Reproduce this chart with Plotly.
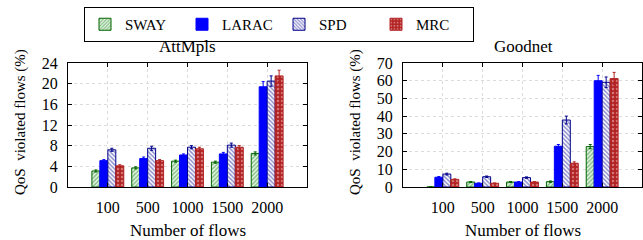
import plotly.graph_objects as go

categories = ["100", "500", "1000", "1500", "2000"]
series_names = ["SWAY", "LARAC", "SPD", "MRC"]

att_sway = [3.1, 3.7, 5.0, 4.8, 6.5]
att_larac = [5.1, 5.5, 6.2, 6.4, 19.4]
att_spd = [7.2, 7.5, 7.7, 8.1, 20.5]
att_mrc = [4.1, 5.1, 7.4, 7.7, 21.5]
att_sway_err = [0.2, 0.2, 0.2, 0.2, 0.3]
att_larac_err = [0.2, 0.3, 0.2, 0.3, 1.0]
att_spd_err = [0.3, 0.4, 0.3, 0.4, 1.0]
att_mrc_err = [0.2, 0.2, 0.3, 0.3, 1.1]

good_sway = [0.0, 2.8, 2.8, 3.0, 22.8]
good_larac = [5.5, 2.1, 2.8, 23.0, 60.0]
good_spd = [7.3, 5.8, 5.3, 37.8, 59.1]
good_mrc = [4.3, 2.1, 2.8, 13.4, 61.2]
good_sway_err = [0.2, 0.3, 0.3, 0.4, 1.2]
good_larac_err = [0.4, 0.2, 0.2, 1.0, 3.0]
good_spd_err = [0.5, 0.4, 0.4, 2.2, 3.0]
good_mrc_err = [0.3, 0.2, 0.2, 0.8, 3.5]

FONT = "Liberation Serif, Times New Roman, DejaVu Serif, serif"

styles = {
    "SWAY": dict(color="white", line=dict(color="#006400", width=1),
                 pattern=dict(shape="/", fgcolor="#228b22", bgcolor="#e8f5e8", size=3, solidity=0.5)),
    "LARAC": dict(color="#0000FF", line=dict(color="#0000FF", width=1)),
    "SPD": dict(color="white", line=dict(color="#00008B", width=1),
                pattern=dict(shape="\\", fgcolor="#1c1c9c", bgcolor="white", size=3, solidity=0.5)),
    "MRC": dict(color="#B22222", line=dict(color="#B22222", width=1),
                pattern=dict(shape=".", fgcolor="#f0c8c8", bgcolor="#B22222", size=4, solidity=0.3)),
}
err_colors = {"SWAY": "#006400", "LARAC": "#0000FF", "SPD": "#00008B", "MRC": "#B22222"}

fig = go.Figure()

att = [(att_sway, att_sway_err), (att_larac, att_larac_err), (att_spd, att_spd_err), (att_mrc, att_mrc_err)]
good = [(good_sway, good_sway_err), (good_larac, good_larac_err), (good_spd, good_spd_err), (good_mrc, good_mrc_err)]

for name, (vals, errs) in zip(series_names, att):
    fig.add_trace(go.Bar(x=categories, y=vals, name=name, marker=styles[name],
                         error_y=dict(type="data", array=errs, color=err_colors[name], thickness=1, width=1.5),
                         xaxis="x", yaxis="y", showlegend=True))
for name, (vals, errs) in zip(series_names, good):
    fig.add_trace(go.Bar(x=categories, y=vals, name=name, marker=styles[name],
                         error_y=dict(type="data", array=errs, color=err_colors[name], thickness=1, width=1.5),
                         xaxis="x2", yaxis="y2", showlegend=False))

W, H = 643, 240
ydom = [(240 - 187) / H, (240 - 63) / H]
axis_common = dict(showline=True, linecolor="black", linewidth=1, mirror="all",
                   ticks="inside", ticklen=4, tickcolor="black",
                   showgrid=True, gridcolor="#dcdcdc", griddash="dot", gridwidth=1,
                   tickfont=dict(family=FONT, size=16, color="black"), zeroline=False)

fig.update_layout(
    width=W, height=H,
    margin=dict(l=0, r=0, t=0, b=0, autoexpand=False),
    paper_bgcolor="white", plot_bgcolor="white",
    barmode="group", bargap=0.2, bargroupgap=0.0,
    font=dict(family=FONT, size=15, color="black"),
    xaxis=dict(domain=[68 / W, 307 / W], range=[-1, 5], type="category", anchor="y",
               ticklabelstandoff=6, **axis_common),
    yaxis=dict(domain=ydom, range=[0, 24], tickvals=[0, 4, 8, 12, 16, 20, 24], anchor="x",
               ticklabelstandoff=6, **axis_common),
    xaxis2=dict(domain=[403 / W, 642 / W], range=[-1, 5], type="category", anchor="y2",
                ticklabelstandoff=6, **axis_common),
    yaxis2=dict(domain=ydom, range=[0, 70], tickvals=[0, 10, 20, 30, 40, 50, 60, 70], anchor="x2",
                ticklabelstandoff=6, **axis_common),
    legend=dict(orientation="h", x=84 / W, y=(240 - 7) / H, xanchor="left", yanchor="top",
                bordercolor="black", borderwidth=1, bgcolor="white",
                font=dict(family=FONT, size=15, color="black"),
                entrywidth=52, entrywidthmode="pixels", itemwidth=30,
                traceorder="normal"),
)

annos = [
    dict(text="AttMpls", x=(68 + 307) / 2 / W, y=(240 - 47) / H, size=17),
    dict(text="Goodnet", x=(403 + 643) / 2 / W, y=(240 - 47) / H, size=17),
    dict(text="Number of flows", x=(68 + 307) / 2 / W, y=(240 - 230) / H, size=17),
    dict(text="Number of flows", x=(403 + 643) / 2 / W, y=(240 - 230) / H, size=17),
    dict(text="QoS  violated flows (%)", x=20 / W, y=(240 - 122) / H, textangle=-90, size=15),
    dict(text="QoS  violated flows (%)", x=355 / W, y=(240 - 122) / H, textangle=-90, size=15),
]
for a in annos:
    size = a.pop("size")
    fig.add_annotation(xref="paper", yref="paper", showarrow=False,
                       xanchor="center", yanchor="middle",
                       font=dict(family=FONT, size=size, color="black"), **a)

fig.write_html("out.html", config={"displayModeBar": False},
               post_script="document.body.style.margin='0px';")
